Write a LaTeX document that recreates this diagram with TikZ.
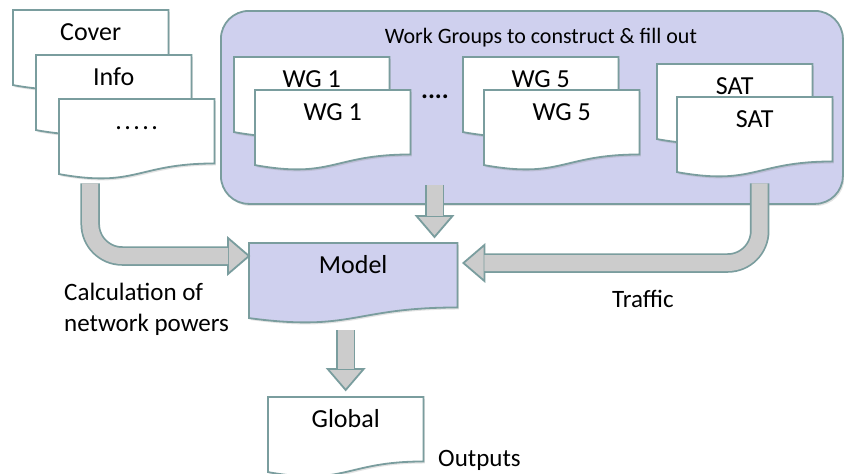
\documentclass[tikz,border=0pt]{standalone}
\usepackage{fontspec}
\setmainfont{Carlito}
\usetikzlibrary{positioning,calc,shadows}
\definecolor{edge}{RGB}{122,157,158}
\definecolor{wgfill}{RGB}{207,208,238}
\definecolor{arrowfill}{RGB}{204,204,204}
\pgfdeclarelayer{back}
\pgfdeclarelayer{paper}
\pgfsetlayers{back,paper,main}
\tikzset{
  doc/.style={anchor=north west,minimum width=155pt,inner sep=0pt,
    text height=30pt,text depth=50pt,font=\fontsize{26}{30}\selectfont},
  paperline/.style={draw=edge,line width=1.8pt,
    drop shadow={opacity=.22,shadow xshift=1.5pt,shadow yshift=-2pt}},
  shaft/.style={line width=16pt,draw=arrowfill,preaction={draw=edge,line width=19.5pt}},
  head/.style={fill=arrowfill,draw=edge,line width=1.8pt,line join=miter},
  note/.style={inner sep=0pt,align=left,font=\fontsize{25}{31}\selectfont},
}
% page with a wavy bottom edge, drawn under the label of node #2
\newcommand\paper[2][white]{%
  \begin{pgfonlayer}{paper}
  \path[paperline,fill=#1] (#2.north west) -- (#2.north east)
    -- ($(#2.north east)!.802!(#2.south east)$)
    .. controls ($(#2.north)!.802!(#2.south)$) and ($(#2.north)!1.108!(#2.south)$)
    .. ($(#2.north west)!.934!(#2.south west)$) -- cycle;
  \end{pgfonlayer}}
% head of a block arrow: tip #1, pointing at angle #2
\newcommand\blockhead[2]{%
  \draw[head] (#1) -- ($(#1)+(#2+180:21pt)+(#2+90:18pt)$)
    -- ($(#1)+(#2+180:21pt)+(#2-90:18pt)$) -- cycle;}

\begin{document}
\begin{tikzpicture}[x=1pt,y=1pt]
\useasboundingbox (0,0) rectangle (844,-474);
\begin{pgfonlayer}{back}
\fill[white] (0,0) rectangle (844,-474);
\node[anchor=north west,draw=edge,line width=1.8pt,fill=wgfill,rounded corners=28pt,
  minimum width=622pt,minimum height=193pt,
  drop shadow={opacity=.22,shadow xshift=1.5pt,shadow yshift=-2pt}] (wgbox) at (220,-10) {};
\end{pgfonlayer}
\node[anchor=base,font=\fontsize{22}{26}\selectfont] (wgtitle)
  at ([xshift=9pt,yshift=-33pt]wgbox.north) {Work Groups to construct \& fill out};

\node[doc] (cover) at (13,-10) {Cover}; \paper{cover}
\node[doc] (info) at ([shift={(23,-45)}]cover.north west) {Info}; \paper{info}
\node[doc] (more) at ([shift={(23,-44)}]info.north west)
  {.\kern2.5pt.\kern2.5pt.\kern2.5pt.\kern2.5pt.}; \paper{more}

\node[doc] (wg1b) at (234,-57) {WG 1}; \paper{wg1b}
\node[doc] (wg1f) at ([shift={(21,-33)}]wg1b.north west) {WG 1}; \paper{wg1f}
\node[anchor=base,font=\fontsize{26}{30}\selectfont\bfseries] (gap) at (435,-98) {....};
\node[doc] (wg5b) at (463,-57) {WG 5}; \paper{wg5b}
\node[doc] (wg5f) at ([shift={(21,-33)}]wg5b.north west) {WG 5}; \paper{wg5f}
\node[doc] (satb) at (657,-64) {SAT}; \paper{satb}
\node[doc] (satf) at ([shift={(20,-33)}]satb.north west) {SAT}; \paper{satf}

\node[doc,minimum width=208pt] (model) at (249,-243) {Model}; \paper[wgfill]{model}
\node[doc] (global) at (268,-397) {Global}; \paper{global}

\coordinate (tipA) at ([yshift=-13pt]model.north west);
\coordinate (tipB) at ([xshift=185.5pt,yshift=6pt]model.north west);
\coordinate (tipC) at ([xshift=6pt,yshift=-20pt]model.north east);
\coordinate (tipD) at ([yshift=7pt]global.north);

\blockhead{tipA}{0}
\draw[shaft,rounded corners=32pt] ([xshift=-46.5pt,yshift=-4pt]more.south) |- ([xshift=-21pt]tipA);
\blockhead{tipB}{-90}
\draw[shaft] ([yshift=20pt]tipB |- wgbox.south) -- ([yshift=21pt]tipB);
\blockhead{tipC}{180}
\draw[shaft,rounded corners=32pt] ([xshift=5pt,yshift=-6pt]satf.south) |- ([xshift=21pt]tipC);
\blockhead{tipD}{-90}
\draw[shaft] ([yshift=-7pt]tipD |- model.south) -- ([yshift=21pt]tipD);

\node[note,anchor=base west] (calc) at (64,-331) {Calculation of\\network powers};
\node[note,anchor=base west] (traffic) at (612,-307) {Traffic};
\node[note,anchor=base west] (outputs) at (438,-466) {Outputs};
\end{tikzpicture}
\end{document}
